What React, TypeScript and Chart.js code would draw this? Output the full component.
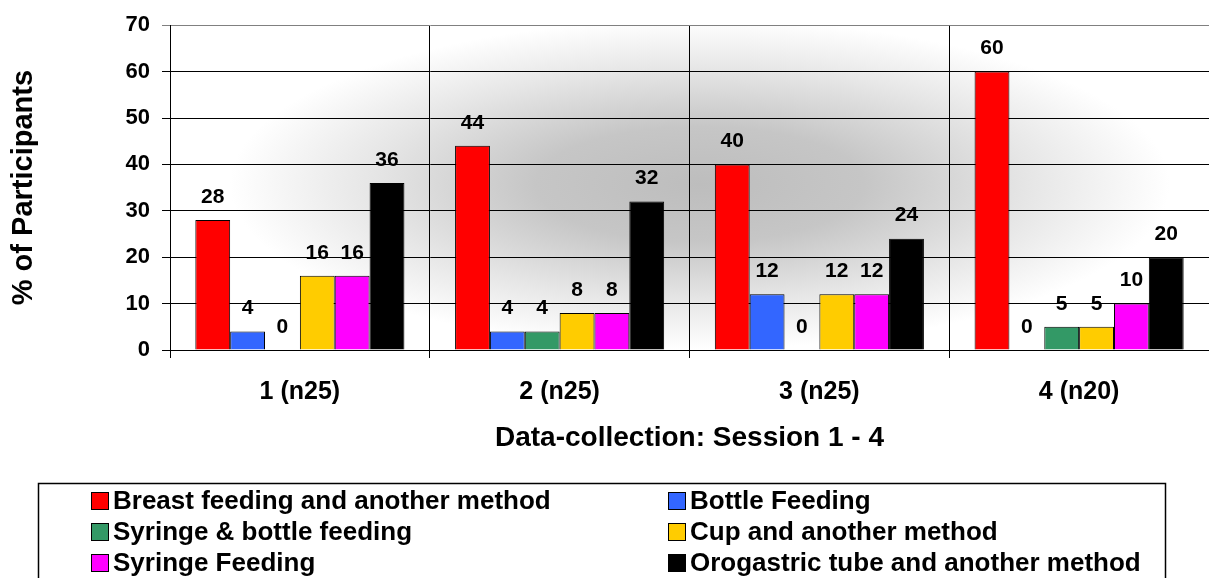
import React, { useEffect, useRef } from "react";
import { Chart, registerables } from "chart.js";

Chart.register(...registerables);

// ---- Data ----
const categories = ["1 (n25)", "2 (n25)", "3 (n25)", "4 (n20)"];
const seriesNames = [
  "Breast feeding and another method",
  "Bottle Feeding",
  "Syringe & bottle feeding",
  "Cup and another method",
  "Syringe Feeding",
  "Orogastric tube and another method",
];
const breastFeeding = [28, 44, 40, 60];
const bottleFeeding = [4, 4, 12, 0];
const syringeBottleFeeding = [0, 4, 0, 5];
const cupFeeding = [16, 8, 12, 5];
const syringeFeeding = [16, 8, 12, 10];
const orogastricTube = [36, 32, 24, 20];
const seriesColors = ["#FF0000", "#3366FF", "#339966", "#FFCC00", "#FF00FF", "#000000"];
const yMin = 0;
const yMax = 70;
const yStep = 10;
const yTitle = "% of Participants";
const xTitle = "Data-collection: Session 1 - 4";

const FONT = '"Liberation Sans", Arial, Helvetica, sans-serif';

const backgroundPlugin = {
  id: "bgShade",
  beforeDraw(chart: any) {
    const { ctx, chartArea: a, width, height } = chart;
    ctx.save();
    ctx.fillStyle = "#ffffff";
    ctx.fillRect(0, 0, width, height);
    ctx.beginPath();
    ctx.rect(a.left, a.top, a.right - a.left, a.bottom - a.top);
    ctx.clip();
    const cx = a.left + (a.right - a.left) * 0.51;
    const cy = a.top + (a.bottom - a.top) * 0.49;
    const rx = 470;
    const ry = 165;
    ctx.translate(cx, cy);
    ctx.scale(rx / ry, 1);
    const g = ctx.createRadialGradient(0, 0, 0, 0, 0, ry);
    g.addColorStop(0, "#bdbdbd");
    g.addColorStop(0.35, "#c6c6c6");
    g.addColorStop(0.7, "#e6e6e6");
    g.addColorStop(1, "#ffffff");
    ctx.fillStyle = g;
    ctx.fillRect(-2000, -2000, 4000, 4000);
    ctx.restore();
  },
};

const valueLabelPlugin = {
  id: "valueLabels",
  afterDatasetsDraw(chart: any) {
    const { ctx } = chart;
    ctx.save();
    ctx.font = `bold 21px ${FONT}`;
    ctx.fillStyle = "#000";
    ctx.textAlign = "center";
    ctx.textBaseline = "middle";
    chart.data.datasets.forEach((ds: any, i: number) => {
      const meta = chart.getDatasetMeta(i);
      meta.data.forEach((bar: any, j: number) => {
        ctx.fillText(String(ds.data[j]), bar.x, bar.y - 23);
      });
    });
    ctx.restore();
  },
};

const legendPlugin = {
  id: "boxLegend",
  afterDraw(chart: any) {
    const { ctx } = chart;
    ctx.save();
    ctx.strokeStyle = "#000";
    ctx.lineWidth = 1.5;
    ctx.strokeRect(38.5, 483.5, 1127, 140);
    ctx.font = `bold 26px ${FONT}`;
    ctx.textBaseline = "middle";
    ctx.textAlign = "left";
    chart.data.datasets.forEach((ds: any, i: number) => {
      const col = i % 2;
      const row = Math.floor(i / 2);
      const sx = col === 0 ? 91 : 668;
      const cy = 501 + row * 31;
      ctx.fillStyle = ds.backgroundColor;
      ctx.fillRect(sx, cy - 9, 18, 18);
      ctx.strokeStyle = "#000";
      ctx.lineWidth = 1;
      ctx.strokeRect(sx + 0.5, cy - 8.5, 17, 17);
      ctx.fillStyle = "#000";
      ctx.fillText(ds.label, sx + 22, cy + 1);
    });
    ctx.restore();
  },
};

export default function App() {
  const ref = useRef<HTMLCanvasElement | null>(null);
  useEffect(() => {
    if (!ref.current) return;
    const seriesValues = [
      breastFeeding,
      bottleFeeding,
      syringeBottleFeeding,
      cupFeeding,
      syringeFeeding,
      orogastricTube,
    ];
    const chart = new Chart(ref.current, {
      type: "bar",
      data: {
        labels: categories,
        datasets: seriesValues.map((vals, i) => ({
          label: seriesNames[i],
          data: vals,
          backgroundColor: seriesColors[i],
          borderColor: "#000",
          borderWidth: 1,
          categoryPercentage: 0.805,
          barPercentage: 1.0,
        })),
      },
      options: {
        responsive: false,
        animation: false,
        devicePixelRatio: 1,
        layout: { padding: { top: 24, right: 0, bottom: 95, left: 0 } },
        plugins: {
          legend: { display: false },
          tooltip: { enabled: false },
        },
        scales: {
          x: {
            afterFit(scale: any) {
              scale.height = 133;
            },
            grid: {
              display: true,
              offset: true,
              color: "#000",
              lineWidth: 1,
              drawTicks: true,
              tickLength: 8,
            },
            border: { display: true, color: "#000", width: 1 },
            ticks: {
              color: "#000",
              padding: 19,
              font: { family: FONT, size: 25, weight: "bold" },
            },
            title: {
              display: true,
              text: xTitle,
              color: "#000",
              padding: { top: 0, bottom: 28 },
              font: { family: FONT, size: 28, weight: "bold" },
            },
          },
          y: {
            min: yMin,
            max: yMax,
            afterFit(scale: any) {
              scale.width = 170;
            },
            grid: {
              color: (c: any) => (c.tick && c.tick.value === yMax ? "#808080" : "#000"),
              lineWidth: 1,
              drawTicks: true,
              tickLength: 8,
            },
            border: { display: true, color: "#000", width: 1 },
            ticks: {
              stepSize: yStep,
              color: "#000",
              padding: 12,
              font: { family: FONT, size: 22, weight: "bold" },
            },
            title: {
              display: true,
              text: yTitle,
              color: "#000",
              padding: { top: 7, bottom: 0 },
              font: { family: FONT, size: 29, weight: "bold" },
            },
          },
        },
      },
      plugins: [backgroundPlugin, valueLabelPlugin, legendPlugin],
    } as any);
    return () => chart.destroy();
  }, []);

  return (
    <div style={{ position: "absolute", left: 0, top: 0, width: 1209, height: 578, background: "#fff" }}>
      <canvas ref={ref} width={1209} height={578} style={{ display: "block" }} />
    </div>
  );
}
